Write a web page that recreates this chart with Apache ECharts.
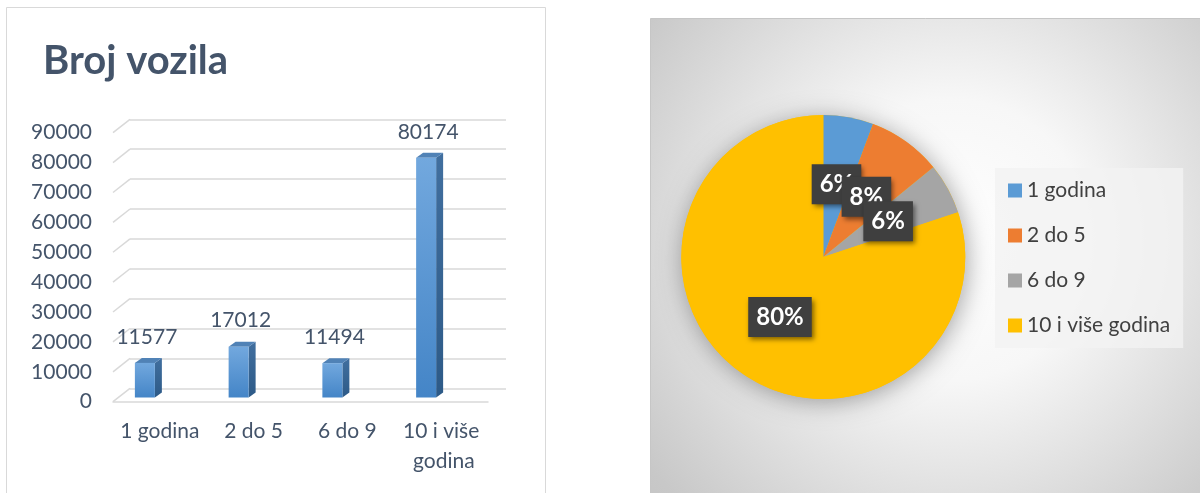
<!DOCTYPE html>
<html>
<head>
<meta charset="utf-8">
<script src="https://cdn.jsdelivr.net/npm/echarts@6/dist/echarts.min.js"></script>
<style>
    html, body { margin: 0; padding: 0; background: #fff; }
    #chart { width: 1200px; height: 493px; }
</style>
</head>
<body>
<div id="chart"></div>
<script>
// data
const categories = ['1 godina', '2 do 5', '6 do 9', '10 i više godina'];
const vehicleCounts = [11577, 17012, 11494, 80174];
const pieShares = [5.7, 8.4, 5.8, 80.1];
const yTicks = [0, 10000, 20000, 30000, 40000, 50000, 60000, 70000, 80000, 90000];
const pieColors = ['#5B9BD5', '#ED7D31', '#A5A5A5', '#FFC000'];

const FONT = 'Lato, "Noto Sans", sans-serif';
const textColor = '#44546A';
const gridColor = '#D9D9D9';
const depth = [7, -5];
const barWidth = 20;

const chart = echarts.init(document.getElementById('chart'));

// 3d-ish column like the excel one
function renderBar(params, api) {
    const top = api.coord([api.value(0), api.value(1)]);
    const base = api.coord([api.value(0), 0]);
    const x0 = top[0] - barWidth / 2;
    const x1 = top[0] + barWidth / 2;
    const dx = depth[0], dy = depth[1];
    return {
        type: 'group',
        children: [
            {
                type: 'polygon',
                shape: { points: [[x1, top[1]], [x1 + dx, top[1] + dy], [x1 + dx, base[1] + dy], [x1, base[1]]] },
                style: { fill: new echarts.graphic.LinearGradient(0, 0, 0, 1, [
                    { offset: 0, color: '#416F9F' }, { offset: 1, color: '#2D5A87' }]) }
            },
            {
                type: 'polygon',
                shape: { points: [[x0, top[1]], [x0 + dx, top[1] + dy], [x1 + dx, top[1] + dy], [x1, top[1]]] },
                style: { fill: '#5082B6' }
            },
            {
                type: 'rect',
                shape: { x: x0, y: top[1], width: barWidth, height: base[1] - top[1] },
                style: { fill: new echarts.graphic.LinearGradient(0, 0, 0, 1, [
                    { offset: 0, color: '#72A8DE' }, { offset: 1, color: '#4485C7' }]) }
            },
            {
                type: 'text',
                x: top[0] + 2,
                y: top[1] + dy - 21,
                style: {
                    text: String(api.value(1)),
                    fill: textColor,
                    fontSize: 21,
                    fontFamily: FONT,
                    align: 'center',
                    verticalAlign: 'middle'
                }
            }
        ]
    };
}

// short slanted lines on the left side of the floor/wall
function renderDiagonal(params, api) {
    const y = api.coord([0, api.value(1)])[1];
    const x = params.coordSys.x;
    return {
        type: 'line',
        shape: { x1: x, y1: y, x2: x + 17, y2: y - 13.4 },
        style: { stroke: gridColor, lineWidth: 1.5 }
    };
}

const pieTotal = pieShares.reduce((a, b) => a + b, 0);

chart.setOption({
    animation: false,
    textStyle: { fontFamily: FONT },
    title: {
        text: 'Broj vozila',
        left: 38,
        top: 36,
        textStyle: { fontSize: 40, fontWeight: 'bold', color: textColor, fontFamily: FONT }
    },
    graphic: [
        {
            type: 'rect',
            z: -10,
            shape: { x: 6.5, y: 7.5, width: 539, height: 500 },
            style: { fill: '#fff', stroke: gridColor, lineWidth: 1 }
        },
        {
            type: 'rect',
            z: -10,
            shape: { x: 650.5, y: 18.5, width: 570, height: 500 },
            style: {
                fill: new echarts.graphic.RadialGradient(950, 240, 470, [
                    { offset: 0, color: '#FFFFFF' },
                    { offset: 0.3, color: '#F7F7F7' },
                    { offset: 0.8, color: '#C8C8C8' },
                    { offset: 1, color: '#C0C0C0' }
                ], true),
                stroke: '#C6C6C6',
                lineWidth: 1
            }
        }
    ],
    legend: {
        orient: 'vertical',
        left: 995,
        top: 168,
        data: categories,
        icon: 'rect',
        itemWidth: 14,
        itemHeight: 14,
        itemGap: 24,
        padding: [12, 13, 12, 13],
        selectedMode: false,
        backgroundColor: 'rgba(242,242,242,0.8)',
        textStyle: { fontSize: 21, lineHeight: 21, color: '#404040', fontFamily: FONT }
    },
    grid: [
        { left: 130, top: 119.3, width: 376, height: 269 },   // back wall
        { left: 113, top: 132.7, width: 375, height: 269 },   // front edge
        { left: 98, top: 128.5, width: 375, height: 269 }     // columns
    ],
    xAxis: [
        { gridIndex: 0, type: 'category', data: categories, axisLine: { show: false }, axisTick: { show: false }, axisLabel: { show: false } },
        {
            gridIndex: 1, type: 'category', data: categories,
            axisTick: { show: false },
            axisLine: { lineStyle: { color: gridColor, width: 1.5 } },
            axisLabel: {
                margin: 15, fontSize: 21, lineHeight: 30, color: textColor, fontFamily: FONT,
                width: 90, overflow: 'break', interval: 0
            }
        },
        { gridIndex: 2, type: 'category', data: categories, show: false }
    ],
    yAxis: [
        {
            gridIndex: 0, type: 'value', min: 0, max: 90000, interval: 10000,
            axisLine: { show: false }, axisTick: { show: false }, axisLabel: { show: false },
            splitLine: { show: true, lineStyle: { color: gridColor, width: 1.5 } }
        },
        {
            gridIndex: 1, type: 'value', min: 0, max: 90000, interval: 10000,
            axisLine: { show: false }, axisTick: { show: false }, splitLine: { show: false },
            axisLabel: { margin: 21, fontSize: 21, color: textColor, fontFamily: FONT, formatter: v => String(v) }
        },
        { gridIndex: 2, type: 'value', min: 0, max: 90000, show: false }
    ],
    series: [
        {
            type: 'custom',
            xAxisIndex: 1, yAxisIndex: 1,
            renderItem: renderDiagonal,
            data: yTicks.map(v => [0, v]),
            silent: true
        },
        {
            type: 'custom',
            name: 'Broj vozila',
            xAxisIndex: 2, yAxisIndex: 2,
            renderItem: renderBar,
            clip: false,
            encode: { x: 0, y: 1 },
            data: vehicleCounts.map((v, i) => [i, v])
        },
        {
            // soft shadow under the pie
            type: 'pie',
            silent: true,
            z: 1,
            center: [823.3, 257],
            radius: 142,
            data: [{ value: pieTotal, name: 'shadow' }],
            itemStyle: { color: '#FFC000', shadowBlur: 24, shadowColor: 'rgba(0,0,0,0.35)', shadowOffsetX: 2, shadowOffsetY: 3 },
            label: { show: false },
            labelLine: { show: false }
        },
        {
            type: 'pie',
            z: 3,
            center: [823.3, 257],
            radius: 142,
            startAngle: 90,
            percentPrecision: 0,
            avoidLabelOverlap: false,
            labelLayout: { hideOverlap: false },
            color: pieColors,
            data: categories.map((name, i) => ({ name: name, value: pieShares[i] })),
            itemStyle: { borderWidth: 0 },
            label: {
                position: 'inside',
                formatter: '{d}%',
                color: '#fff',
                fontSize: 24,
                lineHeight: 24,
                fontWeight: 'bold',
                fontFamily: FONT,
                backgroundColor: '#3F3F3F',
                padding: [8, 8, 8, 8],
                shadowColor: 'rgba(0,0,0,0.5)',
                shadowBlur: 5,
                shadowOffsetX: 2,
                shadowOffsetY: 3
            },
            labelLine: { show: false },
            emphasis: { disabled: true }
        }
    ]
});
</script>
</body>
</html>
